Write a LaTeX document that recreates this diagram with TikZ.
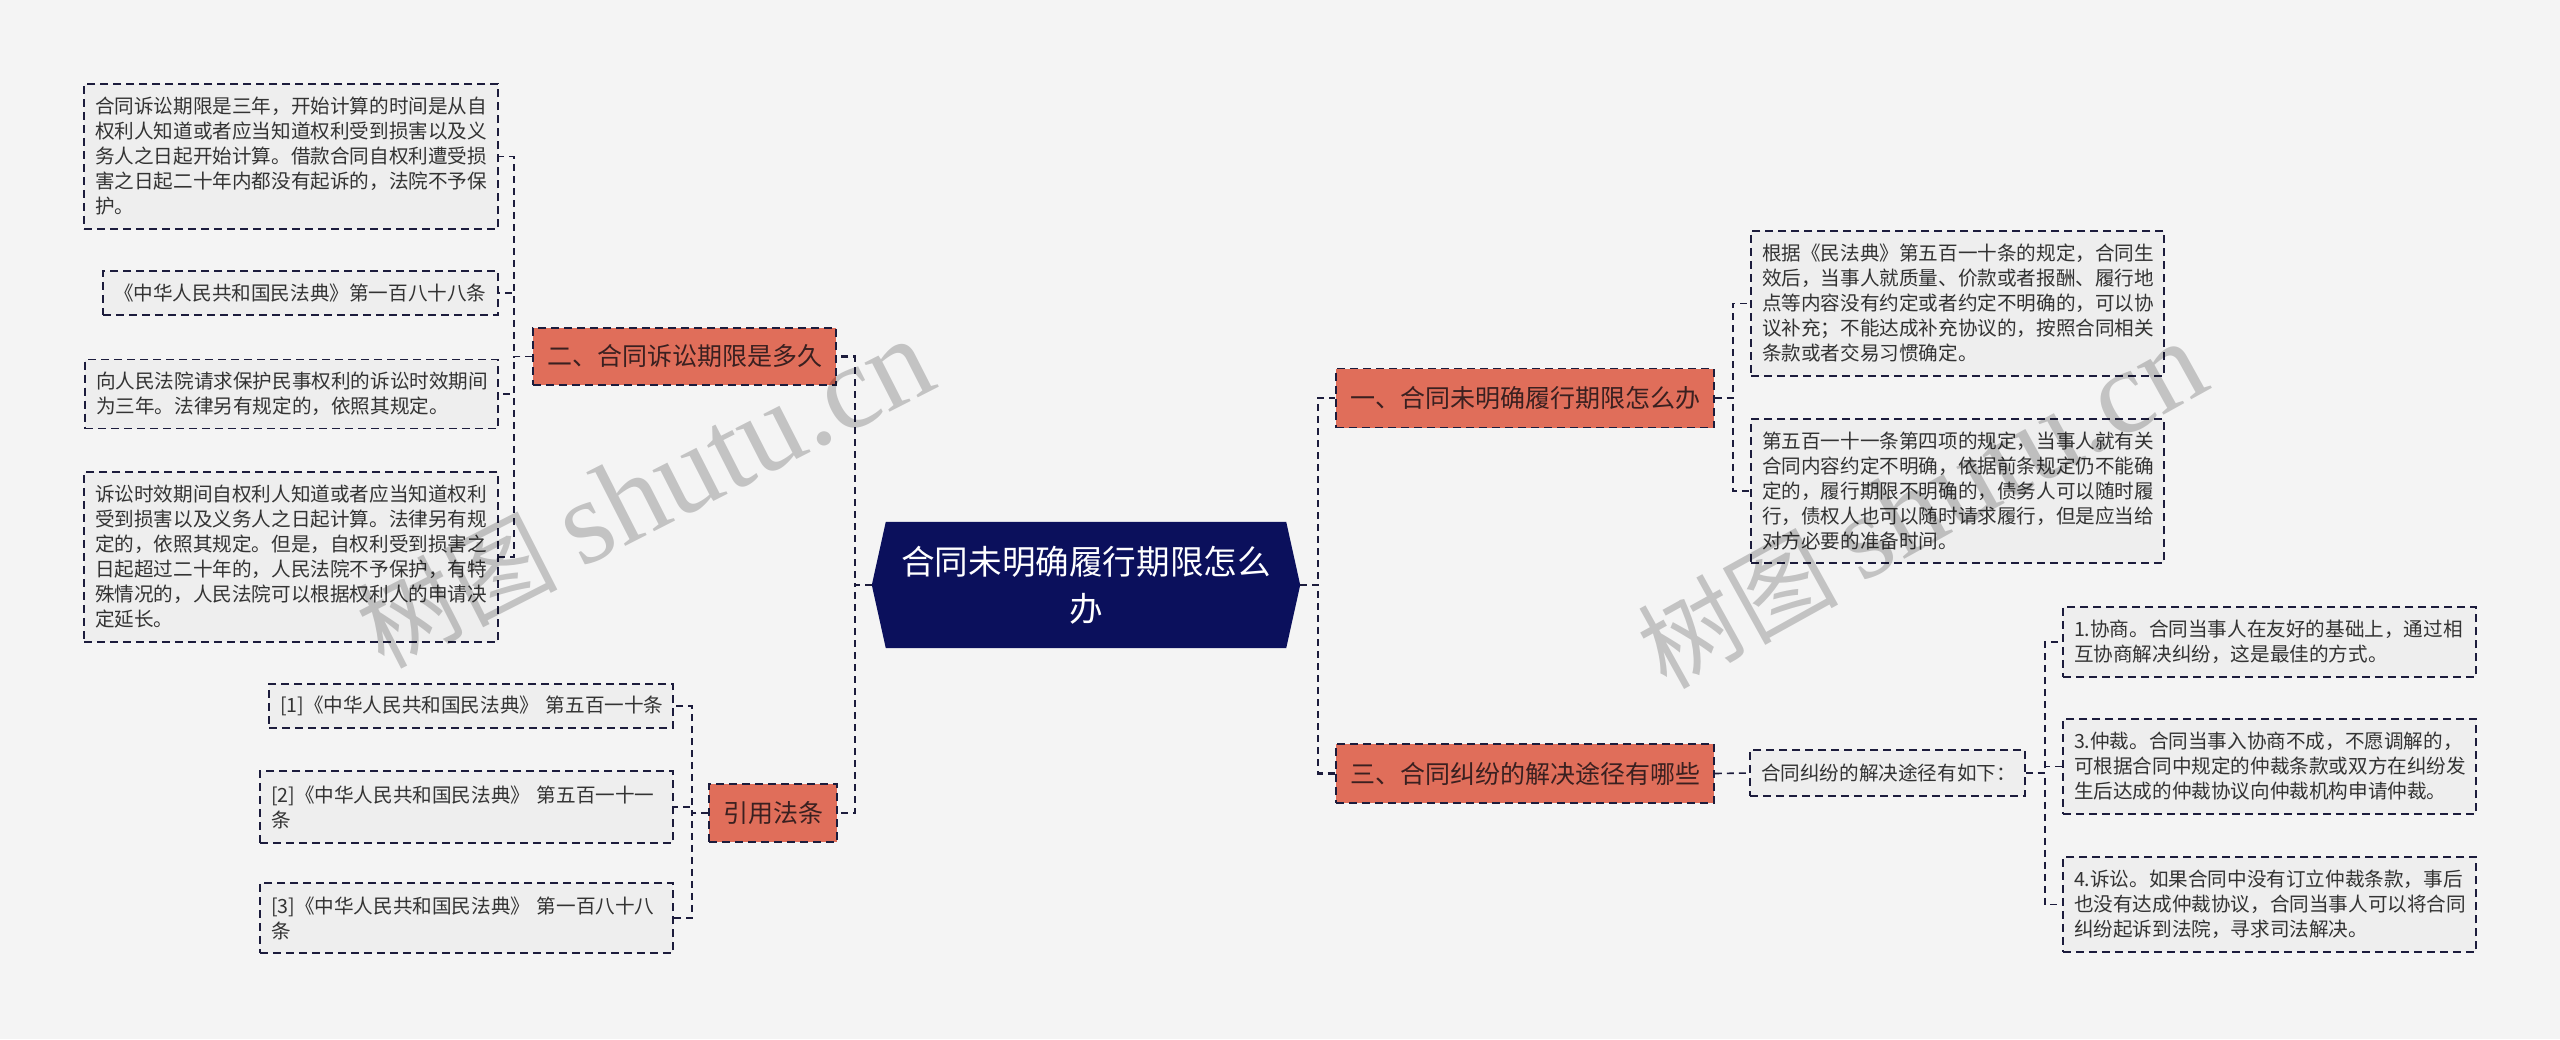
\documentclass[tikz,border=0pt]{standalone}
\usepackage{fontspec}
\setmainfont{Noto Sans CJK SC}
\newfontfamily\wmlatin{Liberation Serif}
\usetikzlibrary{backgrounds}
\definecolor{bgc}{HTML}{F4F4F4}
\definecolor{leaffill}{HTML}{EEEEEE}
\definecolor{edgec}{HTML}{1C1C3C}
\definecolor{lonefill}{HTML}{E06E5A}
\definecolor{lonetext}{HTML}{3A2020}
\definecolor{navyc}{HTML}{0B105C}
\definecolor{txt}{HTML}{333333}
\begin{document}
\begin{tikzpicture}[x=1pt,y=-1pt,
  leaf/.style={draw=edgec, fill=leaffill, line width=1.6pt, dash pattern=on 8pt off 5pt,
    inner xsep=11pt, inner ysep=0pt, align=left, text=txt,
    font=\fontsize{19.6}{25}\selectfont},
  lone/.style={draw=edgec, fill=lonefill, line width=1.6pt, dash pattern=on 8pt off 5pt,
    inner sep=0pt, text=lonetext, font=\fontsize{25}{30}\selectfont},
  central/.style={inner sep=0pt, text=white, align=center,
    font=\fontsize{33.6}{47}\selectfont, minimum width=428pt, minimum height=126pt},
  conn/.style={draw=edgec, line width=1.6pt, dash pattern=on 7pt off 5pt},
  mainconn/.style={draw=edgec, line width=2.4pt, dash pattern=on 7pt off 5pt},
  wm/.style={text=black, opacity=0.2, font=\fontsize{100}{110}\selectfont, inner sep=0pt}
]
\useasboundingbox (0,0) rectangle (2560,1039);

% central
\node[central] (c) at (1086,585) {合同未明确履行期限怎么\\办};

% level one
\node[lone, minimum width=303pt, minimum height=57pt] (n2) at (684.5,356.5) {二、合同诉讼期限是多久};
\node[lone, minimum width=128pt, minimum height=58pt] (n4) at (773,813) {引用法条};
\node[lone, minimum width=378pt, minimum height=59pt] (n1) at (1525,398) {一、合同未明确履行期限怎么办};
\node[lone, minimum width=378pt, minimum height=59pt] (n3) at (1525,773.5) {三、合同纠纷的解决途径有哪些};

% left leaves of n2
\node[leaf, text width=392pt, minimum height=145pt] (a1) at (291,156.5) {合同诉讼期限是三年，开始计算的时间是从自\\权利人知道或者应当知道权利受到损害以及义\\务人之日起开始计算。借款合同自权利遭受损\\害之日起二十年内都没有起诉的，法院不予保\\护。};
\node[leaf, text width=373pt, minimum height=44pt] (a2) at (300.5,293) {《中华人民共和国民法典》第一百八十八条};
\node[leaf, text width=391pt, minimum height=69pt] (a3) at (291.5,394) {向人民法院请求保护民事权利的诉讼时效期间\\为三年。法律另有规定的，依照其规定。};
\node[leaf, text width=392pt, minimum height=170pt] (a4) at (291,557) {诉讼时效期间自权利人知道或者应当知道权利\\受到损害以及义务人之日起计算。法律另有规\\定的，依照其规定。但是，自权利受到损害之\\日起超过二十年的，人民法院不予保护，有特\\殊情况的，人民法院可以根据权利人的申请决\\定延长。};

% left leaves of n4
\node[leaf, text width=382pt, minimum height=44pt] (b1) at (471,706) {[1]《中华人民共和国民法典》~第五百一十条};
\node[leaf, text width=391pt, minimum height=72pt] (b2) at (466.5,807) {[2]《中华人民共和国民法典》~第五百一十一\\条};
\node[leaf, text width=391pt, minimum height=70pt] (b3) at (466.5,918) {[3]《中华人民共和国民法典》~第一百八十八\\条};

% right leaves of n1
\node[leaf, text width=391pt, minimum height=145pt] (r1) at (1957.5,303.5) {根据《民法典》第五百一十条的规定，合同生\\效后，当事人就质量、价款或者报酬、履行地\\点等内容没有约定或者约定不明确的，可以协\\议补充；不能达成补充协议的，按照合同相关\\条款或者交易习惯确定。};
\node[leaf, text width=391pt, minimum height=144pt] (r2) at (1957.5,491) {第五百一十一条第四项的规定，当事人就有关\\合同内容约定不明确，依据前条规定仍不能确\\定的，履行期限不明确的，债务人可以随时履\\行，债权人也可以随时请求履行，但是应当给\\对方必要的准备时间。};

% n3 child and its leaves
\node[leaf, text width=253pt, minimum height=46pt] (m) at (1887.5,773) {合同纠纷的解决途径有如下：};
\node[leaf, text width=391pt, minimum height=70pt] (s1) at (2269.5,642) {1.协商。合同当事人在友好的基础上，通过相\\互协商解决纠纷，这是最佳的方式。};
\node[leaf, text width=391pt, minimum height=95pt] (s2) at (2269.5,766.5) {3.仲裁。合同当事入协商不成，不愿调解的，\\可根据合同中规定的仲裁条款或双方在纠纷发\\生后达成的仲裁协议向仲裁机构申请仲裁。};
\node[leaf, text width=391pt, minimum height=95pt] (s3) at (2269.5,904.5) {4.诉讼。如果合同中没有订立仲裁条款，事后\\也没有达成仲裁协议，合同当事人可以将合同\\纠纷起诉到法院，寻求司法解决。};

% bracket coordinates
\coordinate (bxCL) at (855,0);
\coordinate (bxCR) at (1318,0);
\coordinate (bx2) at (514,0);
\coordinate (bx4) at (692,0);
\coordinate (bx1) at (1733,0);
\coordinate (bxm) at (2045,0);

\begin{scope}[on background layer]
  \fill[bgc] (0,0) rectangle (2560,1039);
  \fill[navyc] (c.west) -- ([xshift=14pt]c.north west) -- ([xshift=-14pt]c.north east)
    -- (c.east) -- ([xshift=-14pt]c.south east) -- ([xshift=14pt]c.south west) -- cycle;
  % central connectors
  \draw[mainconn] (c.west) -- (c.west -| bxCL) |- (n2.east);
  \draw[mainconn] (c.west) -- (c.west -| bxCL) |- (n4.east);
  \draw[mainconn] (c.east) -- (c.east -| bxCR) |- (n1.west);
  \draw[mainconn] (c.east) -- (c.east -| bxCR) |- (n3.west);
  % n2
  \foreach \k in {a1,a2,a3,a4}
    \draw[conn] (n2.west) -- (n2.west -| bx2) |- (\k.east);
  % n4
  \foreach \k in {b1,b2,b3}
    \draw[conn] (n4.west) -- (n4.west -| bx4) |- (\k.east);
  % n1
  \foreach \k in {r1,r2}
    \draw[conn] (n1.east) -- (n1.east -| bx1) |- (\k.west);
  % n3
  \draw[conn] (n3.east) -- (m.west);
  \foreach \k in {s1,s2,s3}
    \draw[conn] (m.east) -- (m.east -| bxm) |- (\k.west);
\end{scope}

% watermarks
\node[wm, rotate=27] (w1) at (645,494) {树图 {\wmlatin\fontsize{120}{130}\selectfont shutu.cn}};
\node[wm, rotate=29] (w2) at (1922,506) {树图 {\wmlatin\fontsize{120}{130}\selectfont shutu.cn}};
\end{tikzpicture}
\end{document}
